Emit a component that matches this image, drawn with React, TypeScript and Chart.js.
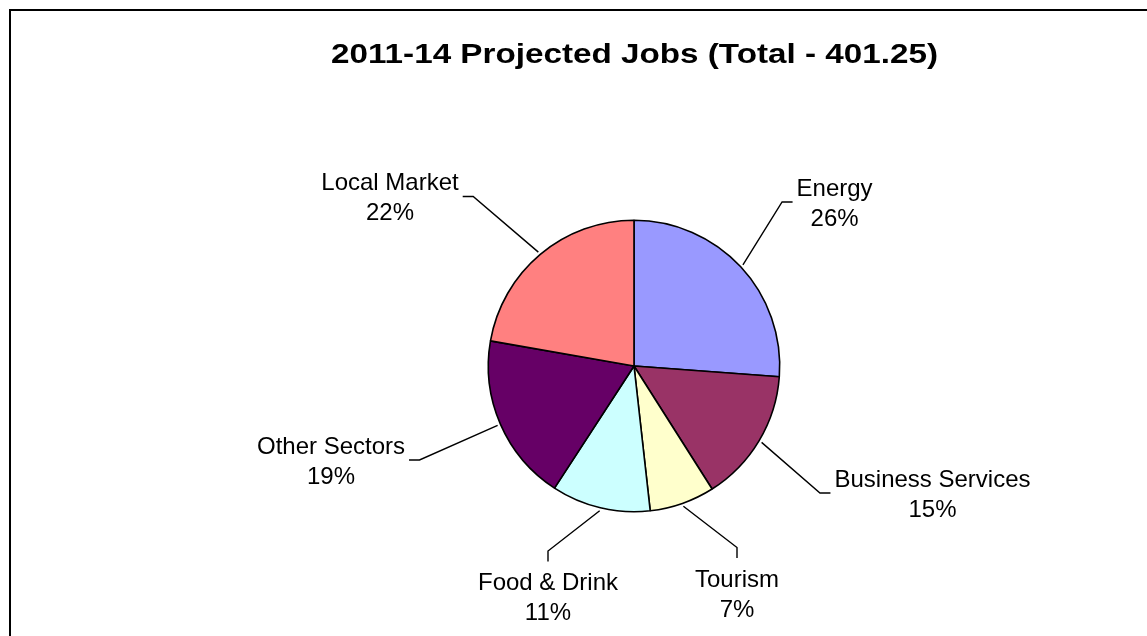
import { useEffect, useRef } from "react";
import { Chart, registerables } from "chart.js";

Chart.register(...registerables);

const TITLE = "2011-14 Projected Jobs (Total - 401.25)";
const CATEGORIES = ["Energy", "Business Services", "Tourism", "Food & Drink", "Other Sectors", "Local Market"];
const JOBS = [105, 59.5, 29, 44, 74.5, 89.25];
const COLORS = ["#9999FF", "#993366", "#FFFFCC", "#CCFFFF", "#660066", "#FF8080"];

// label block placement relative to the pie centre, and the side the leader attaches to
const LABEL_OFFSETS = [
  { dx: 200.6, dy: -164, side: "right" },
  { dx: 298.5, dy: 127, side: "right" },
  { dx: 103, dy: 227, side: "bottom" },
  { dx: -86, dy: 230.5, side: "bottom" },
  { dx: -303, dy: 94, side: "left" },
  { dx: -244, dy: -169.5, side: "left" },
];

const FONT = '"Liberation Sans", Arial, Helvetica, sans-serif';

const excelPlugin = {
  id: "excelPie",
  beforeDraw(chart: any) {
    const ctx = chart.ctx;
    ctx.save();
    ctx.strokeStyle = "#000";
    ctx.lineWidth = 2;
    ctx.beginPath();
    ctx.moveTo(10, chart.height + 5);
    ctx.lineTo(10, 10);
    ctx.lineTo(chart.width + 5, 10);
    ctx.stroke();
    ctx.restore();
  },
  afterDatasetsDraw(chart: any) {
    const ctx = chart.ctx;
    const meta = chart.getDatasetMeta(0);
    const values: number[] = chart.data.datasets[0].data;
    const total = values.reduce((a, b) => a + b, 0);
    ctx.save();

    // title (bold, slightly stretched like the Excel export)
    ctx.fillStyle = "#000";
    ctx.font = `bold 28px ${FONT}`;
    ctx.textAlign = "center";
    ctx.textBaseline = "alphabetic";
    const tw = ctx.measureText(TITLE).width;
    ctx.save();
    ctx.translate(634.5, 63);
    ctx.scale(607 / tw, 1);
    ctx.fillText(TITLE, 0, 0);
    ctx.restore();

    ctx.font = `24px ${FONT}`;
    ctx.strokeStyle = "#000";
    ctx.lineWidth = 1.4;
    meta.data.forEach((arc: any, i: number) => {
      const p = arc.getProps(["x", "y", "startAngle", "endAngle", "outerRadius"], true);
      const mid = (p.startAngle + p.endAngle) / 2;
      const sx = p.x + Math.cos(mid) * (p.outerRadius + 3);
      const sy = p.y + Math.sin(mid) * (p.outerRadius + 3);
      const lay = LABEL_OFFSETS[i];
      const cx = p.x + lay.dx;
      const my = p.y + lay.dy;
      const pct = Math.round((values[i] / total) * 100) + "%";
      const lines = [chart.data.labels[i], pct];
      const w = Math.max(...lines.map((l: string) => ctx.measureText(l).width));
      let ax: number, ay: number, ex: number, ey: number;
      if (lay.side === "right") {
        ax = cx - w / 2 - 4; ay = my; ex = ax - 10.5; ey = my;
      } else if (lay.side === "left") {
        ax = cx + w / 2 + 4; ay = my; ex = ax + 10.5; ey = my;
      } else {
        ax = cx; ay = my - 35; ex = cx; ey = ay - 10.5;
      }
      ctx.beginPath();
      ctx.moveTo(sx, sy);
      ctx.lineTo(ex, ey);
      ctx.lineTo(ax, ay);
      ctx.stroke();
      ctx.fillStyle = "#000";
      ctx.textAlign = "center";
      ctx.fillText(lines[0], cx, my - 6.5);
      ctx.fillText(lines[1], cx, my + 23.5);
    });
    ctx.restore();
  },
};

export default function App() {
  const ref = useRef<HTMLCanvasElement>(null);
  useEffect(() => {
    const chart = new Chart(ref.current as HTMLCanvasElement, {
      type: "pie",
      data: {
        labels: CATEGORIES,
        datasets: [
          {
            data: JOBS,
            backgroundColor: COLORS,
            borderColor: "#000",
            borderWidth: 1.6,
          },
        ],
      },
      options: {
        animation: false,
        responsive: false,
        devicePixelRatio: 1,
        layout: { padding: { left: 487.5, right: 366.5, top: 219.5, bottom: 123.5 } },
        plugins: {
          legend: { display: false },
          tooltip: { enabled: false },
          title: { display: false },
        },
      },
      plugins: [excelPlugin],
    } as any);
    return () => chart.destroy();
  }, []);
  return (
    <div style={{ position: "fixed", left: 0, top: 0, width: 1147, height: 636, background: "#fff", overflow: "hidden" }}>
      <canvas ref={ref} width={1147} height={636} style={{ display: "block" }} />
    </div>
  );
}
